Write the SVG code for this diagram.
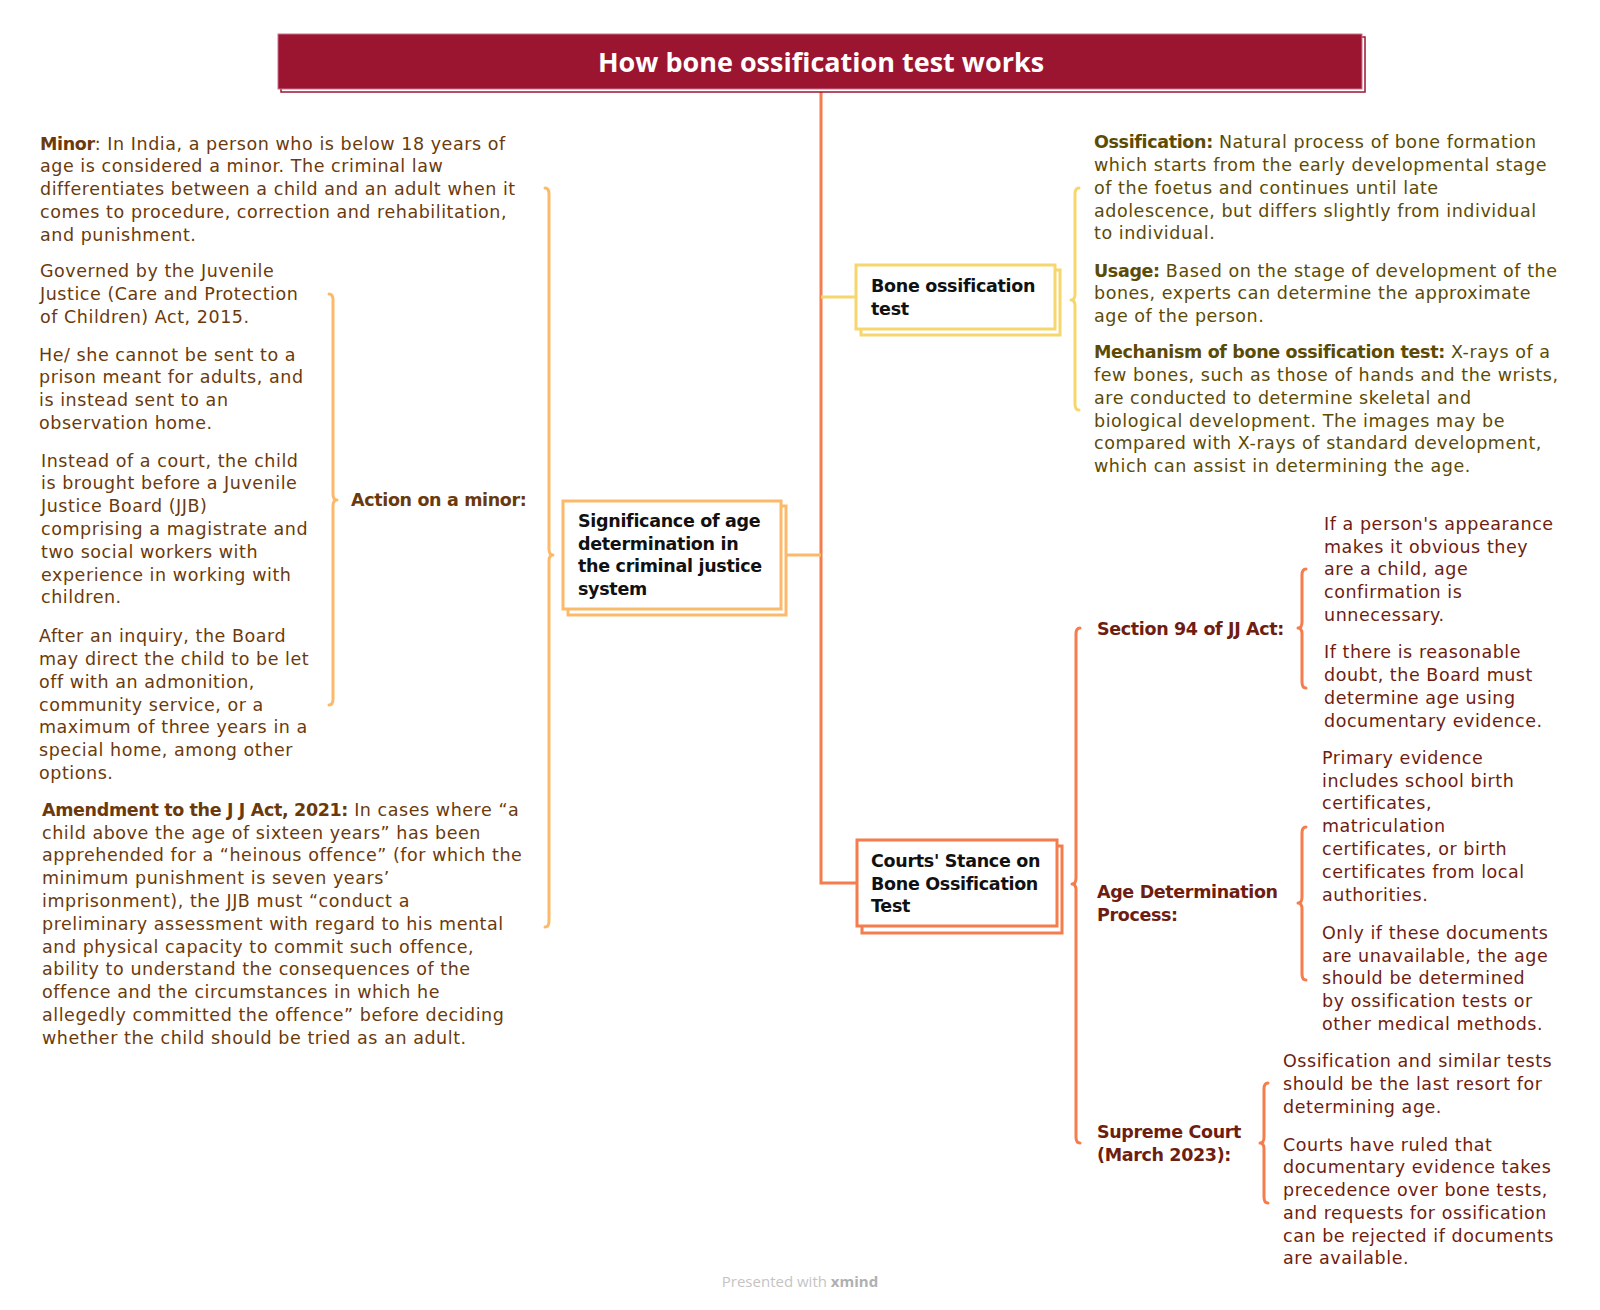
<svg xmlns="http://www.w3.org/2000/svg" width="1600" height="1310" viewBox="0 0 1600 1310">
<style>
.t{font-family:"DejaVu Sans","Open Sans",sans-serif;font-size:17.5px;letter-spacing:0.55px}
.b{font-weight:bold;letter-spacing:-0.35px}
.lb{fill:#6b3a0c}
.ol{fill:#5c4b05}
.rd{fill:#6e1d10}
.node{font-family:"DejaVu Sans","Open Sans",sans-serif;font-size:17.5px;font-weight:bold;fill:#111;letter-spacing:-0.3px}
.br{fill:none;stroke-width:3;stroke-linecap:round;stroke-linejoin:round}
</style>
<rect width="1600" height="1310" fill="#fff"/>

<g id="connectors">
  <path d="M821,89 V883 H857" fill="none" stroke="#f47c4d" stroke-width="3"/>
  <path d="M821,297 H856" fill="none" stroke="#f5d76e" stroke-width="3"/>
  <path d="M781,555 H821" fill="none" stroke="#fdb96a" stroke-width="3"/>
  <path class="br" stroke="#fdb96a" d="M545,188 Q549,188 549,194 L549,549 Q549,555 553,555 Q549,555 549,561 L549,921 Q549,927 545,927"/>
  <path class="br" stroke="#fdb96a" d="M329,294 Q333,294 333,300 L333,494 Q333,500 337,500 Q333,500 333,506 L333,699 Q333,705 329,705"/>
  <path class="br" stroke="#f5d76e" d="M1079,188 Q1075,188 1075,194 L1075,294 Q1075,300 1071,300 Q1075,300 1075,306 L1075,404 Q1075,410 1079,410"/>
  <path class="br" stroke="#f47c4d" d="M1080,628 Q1076,628 1076,634 L1076,878 Q1076,884 1072,884 Q1076,884 1076,890 L1076,1137 Q1076,1143 1080,1143"/>
  <path class="br" stroke="#f47c4d" d="M1306,569 Q1302,569 1302,575 L1302,622 Q1302,628 1298,628 Q1302,628 1302,634 L1302,682 Q1302,688 1306,688"/>
  <path class="br" stroke="#f47c4d" d="M1306,827 Q1302,827 1302,833 L1302,897 Q1302,903 1298,903 Q1302,903 1302,909 L1302,974 Q1302,980 1306,980"/>
  <path class="br" stroke="#f47c4d" d="M1268,1083 Q1264,1083 1264,1089 L1264,1137 Q1264,1143 1260,1143 Q1264,1143 1264,1149 L1264,1197 Q1264,1203 1268,1203"/>
</g>

<g id="title">
  <rect x="281" y="37" width="1084" height="55" fill="#fff" stroke="#9b1530" stroke-width="1.5"/>
  <rect x="278" y="34" width="1084" height="55" fill="#9b1530" stroke="#c9708a" stroke-width="1"/>
  <text x="821" y="72" text-anchor="middle" font-family="'Open Sans','Noto Sans',sans-serif" font-size="27" font-weight="bold" fill="#fff">How bone ossification test works</text>
</g>

<g id="node-significance">
  <rect x="568" y="506" width="218" height="109" fill="#fff" stroke="#fdb96a" stroke-width="3"/>
  <rect x="563" y="501" width="218" height="108" fill="#fff" stroke="#fdb96a" stroke-width="3"/>
  <text class="node"><tspan x="578" y="527">Significance of age</tspan><tspan x="578" y="549.5">determination in</tspan><tspan x="578" y="572">the criminal justice</tspan><tspan x="578" y="594.5">system</tspan></text>
</g>

<g id="node-bone">
  <rect x="861" y="270" width="199" height="65" fill="#fff" stroke="#f5d76e" stroke-width="3"/>
  <rect x="856" y="265" width="199" height="64" fill="#fff" stroke="#f5d76e" stroke-width="3"/>
  <text class="node"><tspan x="871" y="292">Bone ossification</tspan><tspan x="871" y="314.5">test</tspan></text>
</g>

<g id="node-courts">
  <rect x="862" y="846" width="200" height="87" fill="#fff" stroke="#f47c4d" stroke-width="3"/>
  <rect x="857" y="840" width="200" height="86" fill="#fff" stroke="#f47c4d" stroke-width="3"/>
  <text class="node"><tspan x="871" y="867">Courts' Stance on</tspan><tspan x="871" y="889.5">Bone Ossification</tspan><tspan x="871" y="912">Test</tspan></text>
</g>

<g id="node-minor">
  <text class="t lb"><tspan x="40" y="149.5"><tspan class="b">Minor</tspan>: In India, a person who is below 18 years of</tspan><tspan x="40" y="172.3">age is considered a minor. The criminal law</tspan><tspan x="40" y="195">differentiates between a child and an adult when it</tspan><tspan x="40" y="218">comes to procedure, correction and rehabilitation,</tspan><tspan x="40" y="240.7">and punishment.</tspan></text>
</g>

<g id="node-action">
  <text class="t lb b" x="351" y="506">Action on a minor:</text>
</g>

<g id="node-governed">
  <text class="t lb"><tspan x="40" y="277.3">Governed by the Juvenile</tspan><tspan x="40" y="300">Justice (Care and Protection</tspan><tspan x="40" y="322.7">of Children) Act, 2015.</tspan></text>
</g>

<g id="node-prison">
  <text class="t lb"><tspan x="39" y="360.7">He/ she cannot be sent to a</tspan><tspan x="39" y="383.3">prison meant for adults, and</tspan><tspan x="39" y="406">is instead sent to an</tspan><tspan x="39" y="428.7">observation home.</tspan></text>
</g>

<g id="node-court">
  <text class="t lb"><tspan x="41" y="466.7">Instead of a court, the child</tspan><tspan x="41" y="489.3">is brought before a Juvenile</tspan><tspan x="41" y="512.3">Justice Board (JJB)</tspan><tspan x="41" y="535">comprising a magistrate and</tspan><tspan x="41" y="558">two social workers with</tspan><tspan x="41" y="580.7">experience in working with</tspan><tspan x="41" y="603.3">children.</tspan></text>
</g>

<g id="node-inquiry">
  <text class="t lb"><tspan x="39" y="641.7">After an inquiry, the Board</tspan><tspan x="39" y="665">may direct the child to be let</tspan><tspan x="39" y="687.7">off with an admonition,</tspan><tspan x="39" y="710.7">community service, or a</tspan><tspan x="39" y="733.3">maximum of three years in a</tspan><tspan x="39" y="756.3">special home, among other</tspan><tspan x="39" y="779">options.</tspan></text>
</g>

<g id="node-amendment">
  <text class="t lb"><tspan x="42" y="816"><tspan class="b">Amendment to the J J Act, 2021:</tspan> In cases where “a</tspan><tspan x="42" y="838.7">child above the age of sixteen years” has been</tspan><tspan x="42" y="861.3">apprehended for a “heinous offence” (for which the</tspan><tspan x="42" y="884.3">minimum punishment is seven years’</tspan><tspan x="42" y="907">imprisonment), the JJB must “conduct a</tspan><tspan x="42" y="930">preliminary assessment with regard to his mental</tspan><tspan x="42" y="952.7">and physical capacity to commit such offence,</tspan><tspan x="42" y="975.3">ability to understand the consequences of the</tspan><tspan x="42" y="998.3">offence and the circumstances in which he</tspan><tspan x="42" y="1021">allegedly committed the offence” before deciding</tspan><tspan x="42" y="1044">whether the child should be tried as an adult.</tspan></text>
</g>

<g id="node-ossification">
  <text class="t ol"><tspan x="1094" y="148.3"><tspan class="b">Ossification:</tspan> Natural process of bone formation</tspan><tspan x="1094" y="171">which starts from the early developmental stage</tspan><tspan x="1094" y="193.7">of the foetus and continues until late</tspan><tspan x="1094" y="216.7">adolescence, but differs slightly from individual</tspan><tspan x="1094" y="239.3">to individual.</tspan></text>
</g>

<g id="node-usage">
  <text class="t ol"><tspan x="1094" y="276.7"><tspan class="b">Usage:</tspan> Based on the stage of development of the</tspan><tspan x="1094" y="299.3">bones, experts can determine the approximate</tspan><tspan x="1094" y="322">age of the person.</tspan></text>
</g>

<g id="node-mechanism">
  <text class="t ol"><tspan x="1094" y="358.3"><tspan class="b">Mechanism of bone ossification test:</tspan> X-rays of a</tspan><tspan x="1094" y="381">few bones, such as those of hands and the wrists,</tspan><tspan x="1094" y="403.7">are conducted to determine skeletal and</tspan><tspan x="1094" y="426.7">biological development. The images may be</tspan><tspan x="1094" y="449.3">compared with X-rays of standard development,</tspan><tspan x="1094" y="472">which can assist in determining the age.</tspan></text>
</g>

<g id="node-section94">
  <text class="t rd b" x="1097" y="635">Section 94 of JJ Act:</text>
</g>
<g id="node-appearance">
  <text class="t rd"><tspan x="1324" y="530">If a person's appearance</tspan><tspan x="1324" y="552.7">makes it obvious they</tspan><tspan x="1324" y="575.3">are a child, age</tspan><tspan x="1324" y="598.3">confirmation is</tspan><tspan x="1324" y="621">unnecessary.</tspan></text>
</g>
<g id="node-doubt">
  <text class="t rd"><tspan x="1324" y="658.3">If there is reasonable</tspan><tspan x="1324" y="681">doubt, the Board must</tspan><tspan x="1324" y="703.7">determine age using</tspan><tspan x="1324" y="726.7">documentary evidence.</tspan></text>
</g>

<g id="node-agedet">
  <text class="t rd b"><tspan x="1097" y="898.3">Age Determination</tspan><tspan x="1097" y="920.5">Process:</tspan></text>
</g>
<g id="node-primary">
  <text class="t rd"><tspan x="1322" y="764">Primary evidence</tspan><tspan x="1322" y="786.7">includes school birth</tspan><tspan x="1322" y="809.3">certificates,</tspan><tspan x="1322" y="832.3">matriculation</tspan><tspan x="1322" y="855">certificates, or birth</tspan><tspan x="1322" y="877.7">certificates from local</tspan><tspan x="1322" y="900.7">authorities.</tspan></text>
</g>
<g id="node-onlyif">
  <text class="t rd"><tspan x="1322" y="939">Only if these documents</tspan><tspan x="1322" y="961.7">are unavailable, the age</tspan><tspan x="1322" y="984.3">should be determined</tspan><tspan x="1322" y="1007.3">by ossification tests or</tspan><tspan x="1322" y="1030">other medical methods.</tspan></text>
</g>

<g id="node-supreme">
  <text class="t rd b"><tspan x="1097" y="1138.3">Supreme Court</tspan><tspan x="1097" y="1160.7">(March 2023):</tspan></text>
</g>
<g id="node-lastresort">
  <text class="t rd"><tspan x="1283" y="1067.3">Ossification and similar tests</tspan><tspan x="1283" y="1090">should be the last resort for</tspan><tspan x="1283" y="1112.7">determining age.</tspan></text>
</g>
<g id="node-ruled">
  <text class="t rd"><tspan x="1283" y="1150.7">Courts have ruled that</tspan><tspan x="1283" y="1173.3">documentary evidence takes</tspan><tspan x="1283" y="1196">precedence over bone tests,</tspan><tspan x="1283" y="1219">and requests for ossification</tspan><tspan x="1283" y="1241.7">can be rejected if documents</tspan><tspan x="1283" y="1264.3">are available.</tspan></text>
</g>

<text x="800" y="1287" text-anchor="middle" font-family="'Open Sans','Noto Sans',sans-serif" font-size="15" fill="#c4c4c4">Presented with <tspan font-weight="bold" fill="#b0b0b0">xmind</tspan></text>
</svg>
